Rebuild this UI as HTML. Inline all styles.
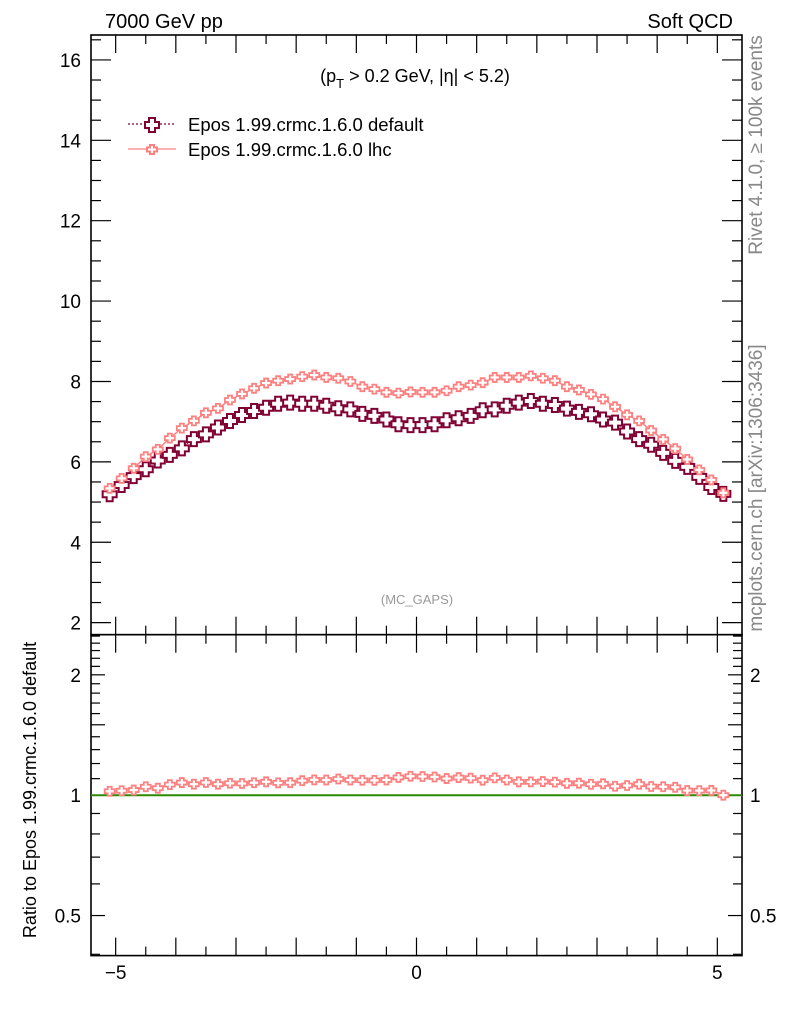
<!DOCTYPE html>
<html><head><meta charset="utf-8"><style>
body{margin:0;background:#fff;}
svg{display:block;font-family:"Liberation Sans",sans-serif;}
</style></head><body>
<svg id="chart" width="786" height="1024" xmlns="http://www.w3.org/2000/svg">
<text x="105" y="28" font-size="20">7000 GeV pp</text>
<text x="733" y="28" font-size="20" text-anchor="end">Soft QCD</text>
<text x="415" y="82" font-size="18" text-anchor="middle">(p<tspan font-size="13" dy="6">T</tspan><tspan dy="-6"> &gt; 0.2 GeV, |η| &lt; 5.2)</tspan></text>
<text x="417" y="604" font-size="13" fill="#999" text-anchor="middle">(MC_GAPS)</text>
<text transform="translate(762,145) rotate(-90)" font-size="19" fill="#888" text-anchor="middle">Rivet 4.1.0, ≥ 100k events</text>
<text transform="translate(762,488) rotate(-90)" font-size="19" fill="#888" text-anchor="middle">mcplots.cern.ch [arXiv:1306:3436]</text>
<text transform="translate(36,790) rotate(-90)" font-size="18" text-anchor="middle">Ratio to Epos 1.99.crmc.1.6.0 default</text>
<g id="legend">
<g>
<line x1="128" y1="124" x2="176" y2="124" stroke="#800033" stroke-width="1.3" stroke-dasharray="2,2"/>
<path d="M149,118h6v4h4v6h-4v4h-6v-4h-4v-6h4z" fill="#fff" stroke="#800033" stroke-width="2"/>
<text x="188" y="131" font-size="18.5">Epos 1.99.crmc.1.6.0 default</text>
</g>
<g>
<line x1="128" y1="149" x2="176" y2="149" stroke="#ff8080" stroke-width="1.3"/>
<path d="M150,145h4v2.5h3v4h-3v2.5h-4v-2.5h-3v-4h3z" fill="#fff" stroke="#ff8080" stroke-width="2"/>
<text x="188" y="156" font-size="18.5">Epos 1.99.crmc.1.6.0 lhc</text>
</g>
</g>
<g id="axes"></g>
<g id="marks"></g>
</svg>
<script>
const etaCenters=[-5.1,-4.9,-4.7,-4.5,-4.3,-4.1,-3.9,-3.7,-3.5,-3.3,-3.1,-2.9,-2.7,-2.5,-2.3,-2.1,-1.9,-1.7,-1.5,-1.3,-1.1,-0.9,-0.7,-0.5,-0.3,-0.1,0.1,0.3,0.5,0.7,0.9,1.1,1.3,1.5,1.7,1.9,2.1,2.3,2.5,2.7,2.9,3.1,3.3,3.5,3.7,3.9,4.1,4.3,4.5,4.7,4.9,5.1];
const defaultValues=[5.22,5.45,5.67,5.84,6.06,6.20,6.36,6.59,6.71,6.88,7.04,7.19,7.29,7.37,7.47,7.50,7.47,7.47,7.42,7.36,7.33,7.22,7.17,7.08,6.96,6.94,6.94,6.96,7.06,7.11,7.17,7.31,7.33,7.42,7.50,7.54,7.47,7.44,7.35,7.27,7.21,7.08,7.0,6.78,6.59,6.45,6.25,6.05,5.90,5.65,5.40,5.23];
const lhcValues=[5.34,5.59,5.84,6.13,6.31,6.59,6.84,7.02,7.22,7.33,7.54,7.69,7.83,7.96,8.02,8.06,8.12,8.16,8.10,8.08,8.0,7.87,7.81,7.73,7.71,7.74,7.73,7.73,7.77,7.87,7.91,7.97,8.10,8.10,8.10,8.14,8.08,8.02,7.87,7.79,7.68,7.56,7.37,7.17,7.02,6.78,6.56,6.33,6.06,5.80,5.55,5.23];
const mainYTicks=[2,4,6,8,10,12,14,16];
const ratioYTicks=[0.5,1,2];
const xTicks=[-5,0,5];

const L=91,R=742,T=35,MB=634.7,RB=955.6;
const X0=-5.41,X1=5.41,Y0=1.70,Y1=16.62,RL0=Math.log(0.397),RL1=Math.log(2.52);
const sx=v=>L+(v-X0)/(X1-X0)*(R-L);
const sy=v=>MB-(v-Y0)/(Y1-Y0)*(MB-T);
const sr=v=>RB-(Math.log(v)-RL0)/(RL1-RL0)*(RB-MB);
const NS="http://www.w3.org/2000/svg";
const axes=document.getElementById('axes'),marks=document.getElementById('marks');
function mk(tag,attrs,parent){const e=document.createElementNS(NS,tag);for(const k in attrs)e.setAttribute(k,attrs[k]);parent.appendChild(e);return e;}
function line(x1,y1,x2,y2,p,w){return mk('line',{x1,y1,x2,y2,stroke:'#000','stroke-width':w||1.5},p);}

let f=mk('rect',{x:L,y:T,width:R-L,height:MB-T,fill:'none',stroke:'#000','stroke-width':1.6},axes);


f=mk('rect',{x:L,y:MB,width:R-L,height:RB-MB,fill:'none',stroke:'#000','stroke-width':1.6},axes);



for(let v=-5;v<=5.001;v+=0.5){const maj=Math.abs(v-Math.round(v))<1e-6;const len=maj?18:9;const x=sx(v);
 line(x,MB,x,MB-len,axes,1.2);line(x,T,x,T+len,axes,1.2);line(x,MB,x,MB+len,axes,1.2);line(x,RB,x,RB-len,axes,1.2);}
xTicks.forEach(v=>{const t=mk('text',{x:sx(v),y:979,'font-size':19,'text-anchor':'middle'},axes);t.textContent=v<0?'−'+Math.abs(v):String(v);
 
 });
for(let v=2;v<=16.5;v+=0.5){const maj=Math.abs(v%2)<1e-6;const len=maj?20:10;const y=sy(v);
 line(L,y,L+len,y,axes,1.2);line(R,y,R-len,y,axes,1.2);}
mainYTicks.forEach(v=>{const t=mk('text',{x:L-10,y:sy(v)+7,'font-size':19,'text-anchor':'end'},axes);t.textContent=v;
 
 });
[0.4,0.5,0.6,0.7,0.8,0.9,1,1.1,1.2,1.3,1.4,1.5,1.6,1.7,1.8,1.9,2,2.1,2.2,2.3,2.4,2.5].forEach(v=>{
 const maj=[0.5,1,1.5,2].includes(v);const len=maj?14:9;const y=sr(v);
 line(L,y,L+len,y,axes,1.2);line(R,y,R-len,y,axes,1.2);});
ratioYTicks.forEach(v=>{const y=sr(v);
 let t=mk('text',{x:L-10,y:y+7,'font-size':19,'text-anchor':'end'},axes);t.textContent=v;
 
 
 t=mk('text',{x:R+8,y:y+7,'font-size':19},axes);t.textContent=v;
 
 });
let rl=mk('line',{x1:L,y1:sr(1),x2:R,y2:sr(1),stroke:'#2a8a00','stroke-width':2},marks);



function bigCross(x,y,col,p){return mk('path',{d:`M${x-3},${y-6}h6v4h4v6h-4v4h-6v-4h-4v-6h4z`,fill:'#fff',stroke:col,'stroke-width':2},p);}
function smallCross(x,y,col,p){return mk('path',{d:`M${x-2},${y-4.5}h4v2.5h3v4h-3v2.5h-4v-2.5h-3v-4h3z`,fill:'#fff',stroke:col,'stroke-width':1.8},p);}

let pts=etaCenters.map((e,i)=>sx(e)+','+sy(defaultValues[i])).join(' ');
let pl=mk('polyline',{points:pts,fill:'none',stroke:'#800033','stroke-width':1.2,'stroke-dasharray':'2,2'},marks);


pts=etaCenters.map((e,i)=>sx(e)+','+sy(lhcValues[i])).join(' ');
pl=mk('polyline',{points:pts,fill:'none',stroke:'#ff8080','stroke-width':1.5},marks);


etaCenters.forEach((e,i)=>{const m=bigCross(sx(e),sy(defaultValues[i]),'#800033',marks);
 
 });
etaCenters.forEach((e,i)=>{const m=smallCross(sx(e),sy(lhcValues[i]),'#ff8080',marks);
 
 });
pts=etaCenters.map((e,i)=>sx(e)+','+sr(lhcValues[i]/defaultValues[i])).join(' ');
pl=mk('polyline',{points:pts,fill:'none',stroke:'#ff8080','stroke-width':1.5},marks);


etaCenters.forEach((e,i)=>{const m=smallCross(sx(e),sr(lhcValues[i]/defaultValues[i]),'#ff8080',marks);
 
 });
</script>
</body></html>
